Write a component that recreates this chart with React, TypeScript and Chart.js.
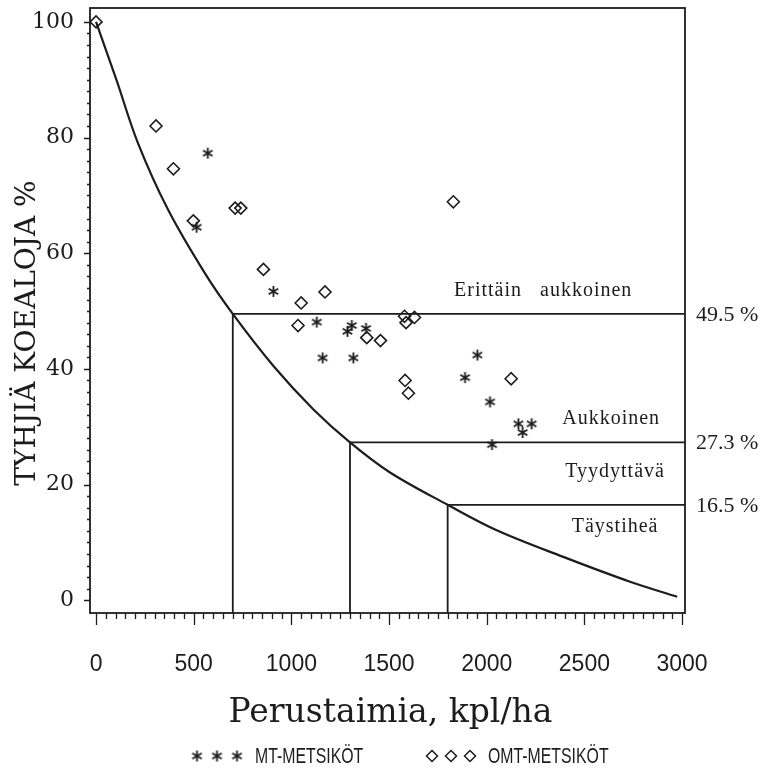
import React, { useEffect, useRef } from 'react';
import { Chart, registerables } from 'chart.js';

Chart.register(...registerables);

// ---- data ----
const curveX = [0, 104, 215, 369, 556, 700, 908, 1113, 1300, 1505, 1800, 2051, 2392, 2734, 2975];
const curveY = [100, 90, 79, 67.5, 56.6, 49.5, 40.5, 33.0, 27.3, 22.1, 16.5, 12.1, 7.5, 3.2, 0.6];

const mtX = [572, 515, 908, 1130, 1309, 1287, 1382, 1160, 1317, 1952, 1889, 2017, 2162, 2230, 2184, 2027];
const mtY = [77.3, 64.5, 53.4, 48.1, 47.5, 46.5, 47.0, 41.9, 41.9, 42.4, 38.5, 34.3, 30.5, 30.5, 29.0, 26.9];

const omtX = [0, 307, 396, 498, 712, 741, 857, 1050, 1172, 1829, 1034, 1386, 1456, 1579, 1587, 1630, 1582, 1599, 2125];
const omtY = [100, 82, 74.6, 65.6, 67.8, 67.8, 57.2, 51.4, 53.3, 68.9, 47.5, 45.4, 44.9, 49.1, 48.0, 48.9, 38.0, 35.8, 38.3];

const limitX = [700, 1300, 1800];
const limitY = [49.5, 27.3, 16.5];
const limitLabels = ['49.5 %', '27.3 %', '16.5 %'];

const zoneNames = ['Erittäin   aukkoinen', 'Aukkoinen', 'Tyydyttävä', 'Täystiheä'];

const xTicks = [0, 500, 1000, 1500, 2000, 2500, 3000];
const yTicks = [0, 20, 40, 60, 80, 100];

const xTitle = 'Perustaimia, kpl/ha';
const yTitle = 'TYHJIÄ KOEALOJA %';
const legendNames = ['MT-METSIKÖT', 'OMT-METSIKÖT'];

// ---- layout / style ----
const X_MIN = -31;
const X_MAX = 3015;
const Y_MIN = -2.2;
const Y_MAX = 102.4;
const INK = '#1c1c1c';
const zoneLabelPos = [
  [2289, 53.6],
  [2637, 31.3],
  [2657, 22.2],
  [2657, 12.7],
];

function makeAsterisk(size: number, lw: number): HTMLCanvasElement {
  const c = document.createElement('canvas');
  c.width = size;
  c.height = size;
  const ctx = c.getContext('2d')!;
  const r = size / 2 - 1;
  const cx = size / 2;
  const cy = size / 2;
  ctx.strokeStyle = INK;
  ctx.lineWidth = lw;
  ctx.lineCap = 'butt';
  const angles = [90, 30, 150];
  ctx.beginPath();
  for (const a of angles) {
    const rad = (a * Math.PI) / 180;
    const dx = Math.cos(rad) * r;
    const dy = Math.sin(rad) * r;
    ctx.moveTo(cx - dx, cy - dy);
    ctx.lineTo(cx + dx, cy + dy);
  }
  ctx.stroke();
  return c;
}

function drawDiamond(ctx: CanvasRenderingContext2D, x: number, y: number, r: number) {
  ctx.beginPath();
  ctx.moveTo(x, y - r);
  ctx.lineTo(x + r, y);
  ctx.lineTo(x, y + r);
  ctx.lineTo(x - r, y);
  ctx.closePath();
  ctx.stroke();
}

export default function App() {
  const ref = useRef<HTMLCanvasElement | null>(null);

  useEffect(() => {
    if (!ref.current) return;
    const star = makeAsterisk(13, 1.8);

    const decor = {
      id: 'decor',
      afterDraw(chart: any) {
        const ctx: CanvasRenderingContext2D = chart.ctx;
        const { left, right, top, bottom } = chart.chartArea;
        const xs = chart.scales.x;
        const ys = chart.scales.y;
        ctx.save();
        ctx.strokeStyle = INK;
        ctx.fillStyle = INK;

        // frame
        ctx.lineWidth = 1.8;
        ctx.strokeRect(left, top, right - left, bottom - top);

        // y ticks (left)
        ctx.lineWidth = 1.3;
        ctx.beginPath();
        for (let v = 0; v <= 100; v += 2) {
          const py = Math.round(ys.getPixelForValue(v)) + 0.5;
          const len = v % 20 === 0 ? 6 : 3;
          ctx.moveTo(left, py);
          ctx.lineTo(left - len, py);
        }
        ctx.stroke();

        // x ticks (below)
        ctx.beginPath();
        for (let v = 0; v <= 3000; v += 50) {
          const px = Math.round(xs.getPixelForValue(v)) + 0.5;
          const len = v % 500 === 0 ? 12 : 6;
          ctx.moveTo(px, bottom);
          ctx.lineTo(px, bottom + len);
        }
        ctx.stroke();

        // limit labels on the right
        ctx.font = '22px "Liberation Serif"';
        ctx.textAlign = 'left';
        ctx.textBaseline = 'middle';
        limitY.forEach((v, i) => {
          ctx.fillText(limitLabels[i], right + 11, ys.getPixelForValue(v) + 1);
        });

        // zone names
        ctx.font = '20px "Liberation Serif"';
        (ctx as any).letterSpacing = '1px';
        ctx.textAlign = 'center';
        zoneNames.forEach((t, i) => {
          const [zx, zy] = zoneLabelPos[i];
          ctx.fillText(t, xs.getPixelForValue(zx), ys.getPixelForValue(zy));
        });
        (ctx as any).letterSpacing = '0px';

        // axis titles
        ctx.font = '33px "DejaVu Serif"';
        ctx.textAlign = 'center';
        ctx.textBaseline = 'middle';
        ctx.fillText(xTitle, (left + right) / 2 + 3, 713);

        ctx.save();
        ctx.translate(28, 333);
        ctx.rotate(-Math.PI / 2);
        ctx.font = '28px "DejaVu Serif"';
        ctx.fillText(yTitle, 0, 0);
        ctx.restore();

        // legend
        const ly = 756;
        [197, 217, 237].forEach((lx) => {
          ctx.drawImage(star, lx - star.width / 2, ly - star.height / 2);
        });
        ctx.lineWidth = 1.5;
        [432, 451, 470].forEach((lx) => drawDiamond(ctx, lx, ly, 5.5));

        ctx.font = '22px "Liberation Sans"';
        ctx.textAlign = 'left';
        ctx.textBaseline = 'middle';
        const drawNarrow = (t: string, x: number) => {
          ctx.save();
          ctx.translate(x, ly + 1);
          ctx.scale(0.72, 1);
          ctx.fillText(t, 0, 0);
          ctx.restore();
        };
        drawNarrow(legendNames[0], 255);
        drawNarrow(legendNames[1], 488);

        ctx.restore();
      },
    };

    const chart = new Chart(ref.current, {
      type: 'scatter',
      data: {
        datasets: [
          {
            label: 'MT-METSIKÖT',
            data: mtX.map((x, i) => ({ x, y: mtY[i] })),
            pointStyle: star as any,
            pointRadius: 6,
            showLine: false,
          },
          {
            label: 'OMT-METSIKÖT',
            data: omtX.map((x, i) => ({ x, y: omtY[i] })),
            pointStyle: 'rectRot',
            pointRadius: 6,
            borderColor: INK,
            borderWidth: 1.6,
            backgroundColor: 'rgba(255,255,255,0)',
            showLine: false,
          },
          {
            label: 'käyrä',
            data: curveX.map((x, i) => ({ x, y: curveY[i] })),
            showLine: true,
            borderColor: INK,
            borderWidth: 2.2,
            pointRadius: 0,
            tension: 0.35,
            fill: false,
          },
          ...limitX.map((x, i) => ({
            label: 'raja ' + limitLabels[i],
            data: [
              { x, y: Y_MIN },
              { x, y: limitY[i] },
              { x: X_MAX, y: limitY[i] },
            ],
            showLine: true,
            borderColor: INK,
            borderWidth: 1.8,
            pointRadius: 0,
            tension: 0,
            fill: false,
          })),
        ] as any,
      },
      options: {
        animation: false,
        responsive: false,
        maintainAspectRatio: false,
        layout: { padding: { top: 8, right: 79, left: 0, bottom: 0 } },
        plugins: {
          legend: { display: false },
          tooltip: { enabled: false },
        },
        scales: {
          x: {
            type: 'linear',
            min: X_MIN,
            max: X_MAX,
            afterFit: (s: any) => {
              s.height = 159;
              s.paddingLeft = 0;
              s.paddingRight = 0;
            },
            afterBuildTicks: (s: any) => {
              s.ticks = xTicks.map((v) => ({ value: v }));
            },
            grid: { display: false },
            border: { display: false },
            ticks: {
              padding: 30,
              color: INK,
              maxRotation: 0,
              autoSkip: false,
              font: { family: '"Liberation Sans"', size: 23 },
              callback: (v: any) => String(v),
            },
          },
          y: {
            type: 'linear',
            min: Y_MIN,
            max: Y_MAX,
            afterFit: (s: any) => {
              s.width = 90;
              s.paddingTop = 0;
              s.paddingBottom = 0;
            },
            afterBuildTicks: (s: any) => {
              s.ticks = yTicks.map((v) => ({ value: v }));
            },
            grid: { display: false },
            border: { display: false },
            ticks: {
              padding: 8,
              color: INK,
              autoSkip: false,
              font: { family: '"DejaVu Serif"', size: 22 },
              callback: (v: any) => String(v),
            },
          },
        },
      } as any,
      plugins: [decor],
    });

    return () => chart.destroy();
  }, []);

  return (
    <div style={{ position: 'absolute', left: 0, top: 0, width: 764, height: 772, background: '#fff' }}>
      <canvas ref={ref} width={764} height={772} style={{ display: 'block', width: 764, height: 772 }} />
    </div>
  );
}
